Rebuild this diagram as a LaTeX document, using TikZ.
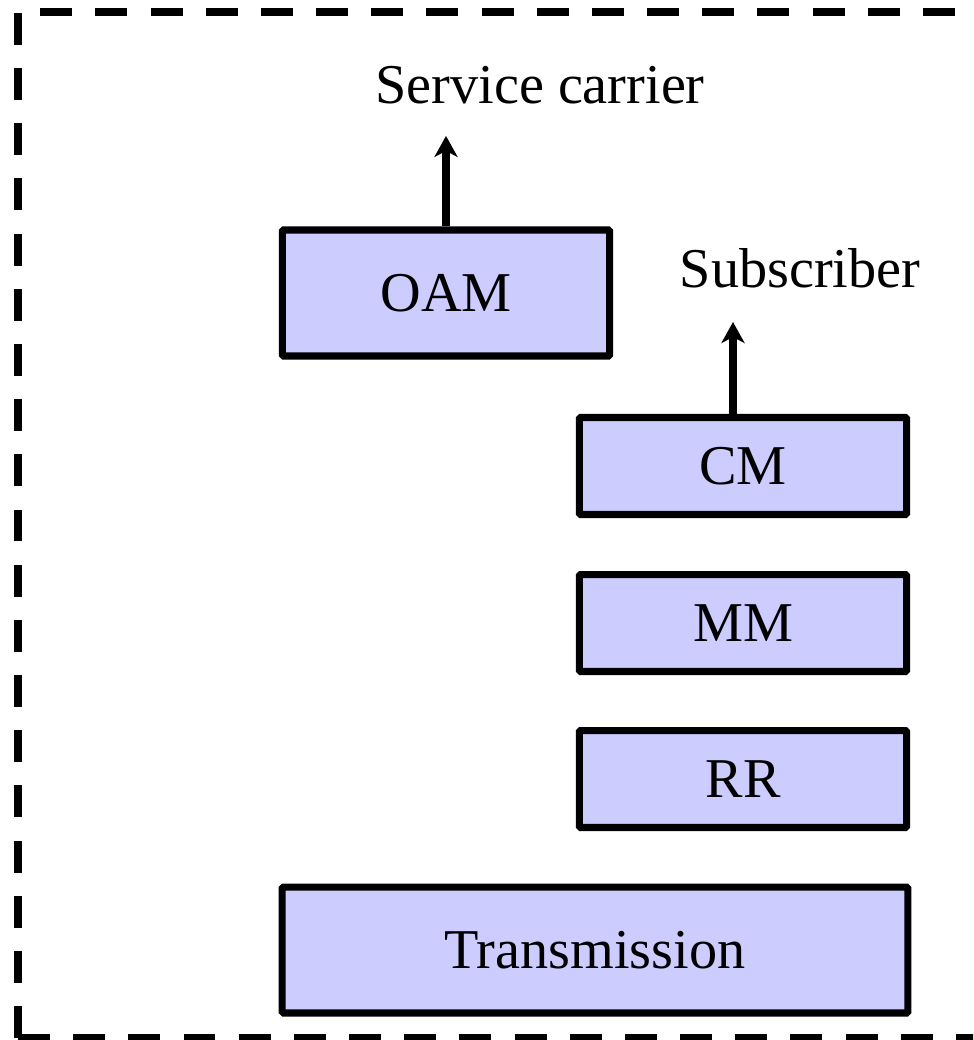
\documentclass[tikz,border=0pt]{standalone}
\usepackage{fontspec}
\setmainfont{Liberation Serif}
\usetikzlibrary{arrows.meta}

\definecolor{boxfill}{RGB}{204,204,255}

\begin{document}
\begin{tikzpicture}[x=0.02cm,y=-0.02cm,
    every node/.style={font=\fontsize{32}{38}\selectfont,inner sep=0pt},
    layer/.style={draw,line width=4pt,fill=boxfill,rounded corners=0.8pt,minimum width=6.55cm},
    tall/.style={layer,minimum height=2.52cm},
    flat/.style={layer,minimum height=1.94cm},
    up/.style={line width=4pt,-{Stealth[length=0.42cm,width=0.46cm,inset=0.12cm]}},
    frame/.style={line width=4.55pt,dash pattern=on 18.2pt off 13.2pt}]

      % Bounding box
      \useasboundingbox (0,0) rectangle (973,1040);
      \clip (0,0) rectangle (973,1040);

      \draw[frame] (18,1038) -- (18,12) -- (990,12);
      \draw[frame] (18,1038) -- (990,1038);

      \draw (446,293) node[tall] (oam) {OAM};
      \draw (743,466) node[flat] (cm) {CM};
      \draw (743,623) node[flat] (mm) {MM};
      \draw (743,779) node[flat] (rr) {RR};
      \draw (595,950) node[tall,minimum width=12.52cm] (trans) {Transmission};

      \draw (540,104) node[anchor=base] (carrier) {Service carrier};
      \draw (800,288) node[anchor=base] (subscr) {Subscriber};

      \draw[up] (oam.north) -- (oam.north |- carrier.south) [shorten >=0.62cm];
      \draw[up] (cm.north -| 733,0) -- (733,322);
    \end{tikzpicture}
\end{document}
